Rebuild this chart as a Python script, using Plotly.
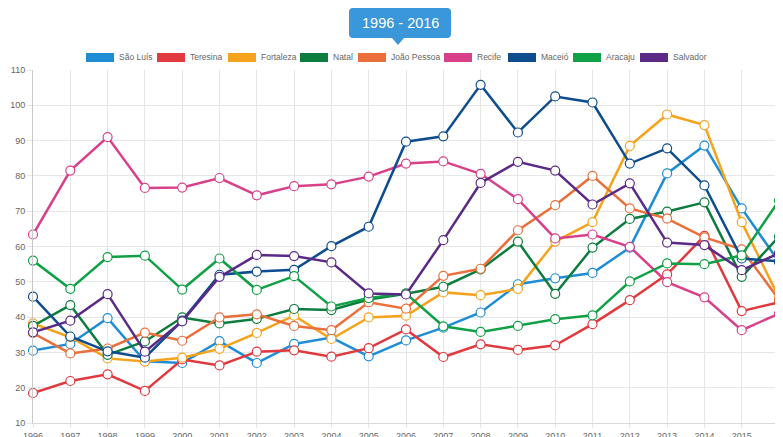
import plotly.graph_objects as go

years = list(range(1996, 2017))
year_labels = [str(y) for y in years]

series_names = ["São Luís", "Teresina", "Fortaleza", "Natal", "João Pessoa",
                "Recife", "Maceió", "Aracaju", "Salvador"]
series_colors = ["#1f8dd6", "#e0393e", "#f5a31d", "#0c7d3e", "#ea6f3a",
                 "#d9408a", "#0d4d8f", "#10a046", "#5b2a86"]

sao_luis = [30.5, 32.4, 39.7, 27.5, 27.0, 33.2, 27.0, 32.4, 34.2, 28.9, 33.4,
            37.0, 41.3, 49.3, 51.0, 52.5, 59.7, 80.7, 88.6, 70.8, 55.6]
teresina = [18.5, 21.9, 23.8, 19.1, 28.0, 26.3, 30.2, 30.6, 28.8, 31.2, 36.5,
            28.7, 32.3, 30.7, 32.0, 38.0, 44.8, 52.1, 63.0, 41.7, 44.2]
fortaleza = [38.2, 34.3, 28.3, 27.4, 28.5, 31.0, 35.5, 40.4, 33.8, 39.9, 40.4,
             47.0, 46.2, 48.0, 61.4, 66.9, 88.5, 97.4, 94.4, 66.9, 45.5]
natal = [37.5, 43.4, 29.3, 33.1, 39.9, 38.2, 39.5, 42.3, 42.0, 45.0, 46.6,
         48.6, 53.5, 61.4, 46.6, 59.7, 67.8, 69.9, 72.5, 51.4, 62.8]
joao_pessoa = [35.5, 29.7, 31.1, 35.6, 33.3, 39.9, 40.8, 37.5, 36.3, 44.2, 42.4,
               51.7, 53.7, 64.6, 71.7, 80.0, 70.8, 67.9, 62.6, 59.2, 45.0]
recife = [63.4, 81.5, 91.0, 76.6, 76.7, 79.4, 74.5, 77.1, 77.6, 79.8, 83.5,
          84.1, 80.6, 73.4, 62.3, 63.4, 59.9, 49.9, 45.6, 36.3, 41.0]
maceio = [45.8, 34.5, 30.3, 28.5, 39.0, 52.0, 52.9, 53.4, 60.1, 65.6, 89.7,
          91.2, 105.8, 92.3, 102.5, 100.8, 83.5, 87.8, 77.3, 56.6, 55.8]
aracaju = [56.0, 48.0, 57.0, 57.4, 47.8, 56.6, 47.7, 51.6, 43.0, 45.4, 46.7,
           37.4, 35.8, 37.5, 39.4, 40.5, 50.1, 55.2, 55.0, 57.5, 73.0]
salvador = [35.7, 39.0, 46.5, 30.2, 38.8, 51.4, 57.6, 57.3, 55.5, 46.7, 46.4,
            61.8, 78.0, 84.0, 81.5, 71.9, 77.9, 61.1, 60.4, 53.3, 58.1]

series_values = [sao_luis, teresina, fortaleza, natal, joao_pessoa,
                 recife, maceio, aracaju, salvador]

y_ticks = list(range(10, 111, 10))
title_text = "1996 - 2016"

# Page is 783x437; the figure sits at an 8px body offset.
OFF = 8
PAGE_W, PAGE_H = 783, 437
W, H = PAGE_W - OFF, PAGE_H - OFF
PL, PT, PB = 33, 70, 423          # plot area in page pixels (left, top, bottom)
PLOT_W = PAGE_W - PL
PLOT_H = PB - PT


def px(x):
    return (x - PL) / PLOT_W


def py(y):
    return (PB - y) / PLOT_H


fig = go.Figure()
for name, color, vals in zip(series_names, series_colors, series_values):
    fig.add_trace(go.Scatter(
        x=years, y=vals, name=name, mode="lines+markers",
        line=dict(color=color, width=2.5),
        marker=dict(size=9, color="white", line=dict(color=color, width=1.2)),
        cliponaxis=False, showlegend=False,
    ))

shapes = []
annotations = []

# Title box with pointer
bx0, bx1, by0, by1, r = 349, 451, 8, 38, 4
path = (f"M {px(bx0 + r)} {py(by0)} L {px(bx1 - r)} {py(by0)} "
        f"Q {px(bx1)} {py(by0)} {px(bx1)} {py(by0 + r)} "
        f"L {px(bx1)} {py(by1 - r)} Q {px(bx1)} {py(by1)} {px(bx1 - r)} {py(by1)} "
        f"L {px(404)} {py(by1)} L {px(398)} {py(45)} L {px(392)} {py(by1)} "
        f"L {px(bx0 + r)} {py(by1)} Q {px(bx0)} {py(by1)} {px(bx0)} {py(by1 - r)} "
        f"L {px(bx0)} {py(by0 + r)} Q {px(bx0)} {py(by0)} {px(bx0 + r)} {py(by0)} Z")
shapes.append(dict(type="path", xref="paper", yref="paper", path=path,
                   fillcolor="#3a97d9", line=dict(width=0), layer="above"))
annotations.append(dict(text=title_text, xref="paper", yref="paper",
                        x=px(400), y=py(23), showarrow=False,
                        xanchor="center", yanchor="middle",
                        font=dict(family="Liberation Sans, Arial",
                                  size=14.5, color="white")))

# Legend (swatches + labels)
swatch_x = [86, 157, 228, 300, 358, 444, 508, 573, 640]
for name, color, sx in zip(series_names, series_colors, swatch_x):
    shapes.append(dict(type="rect", xref="paper", yref="paper",
                       x0=px(sx), x1=px(sx + 28), y0=py(62), y1=py(53),
                       fillcolor=color, line=dict(width=0), layer="above"))
    annotations.append(dict(text=name, xref="paper", yref="paper",
                            x=px(sx + 31), y=py(57.5), showarrow=False,
                            xanchor="left", yanchor="middle",
                            font=dict(family="Liberation Sans, Arial", size=8.5, color="#666666")))

fig.update_layout(
    width=W, height=H,
    margin=dict(l=PL - OFF, r=0, t=PT - OFF, b=PAGE_H - PB, pad=0, autoexpand=False),
    paper_bgcolor="white", plot_bgcolor="white",
    font=dict(family="Liberation Sans, Arial", size=10, color="#666666"),
    shapes=shapes, annotations=annotations,
    showlegend=False,
)
fig.update_xaxes(
    range=[1996, 2016.107], tickmode="array", tickvals=years, ticktext=year_labels,
    showgrid=True, gridcolor="#e6e6e6", gridwidth=1,
    showline=True, linecolor="#d9d9d9", linewidth=1,
    ticks="outside", ticklen=4, tickcolor="#e6e6e6",
    tickfont=dict(size=9, color="#666666"), zeroline=False, fixedrange=True,
    automargin=False,
)
fig.update_yaxes(
    range=[10, 110], tickmode="array", tickvals=y_ticks,
    showgrid=True, gridcolor="#e6e6e6", gridwidth=1,
    showline=True, linecolor="#c8c8c8", linewidth=1,
    ticks="outside", ticklen=5, tickcolor="#e6e6e6",
    tickfont=dict(size=9, color="#666666"), zeroline=False, fixedrange=True,
    automargin=False,
)

fig.write_html("out.html")
